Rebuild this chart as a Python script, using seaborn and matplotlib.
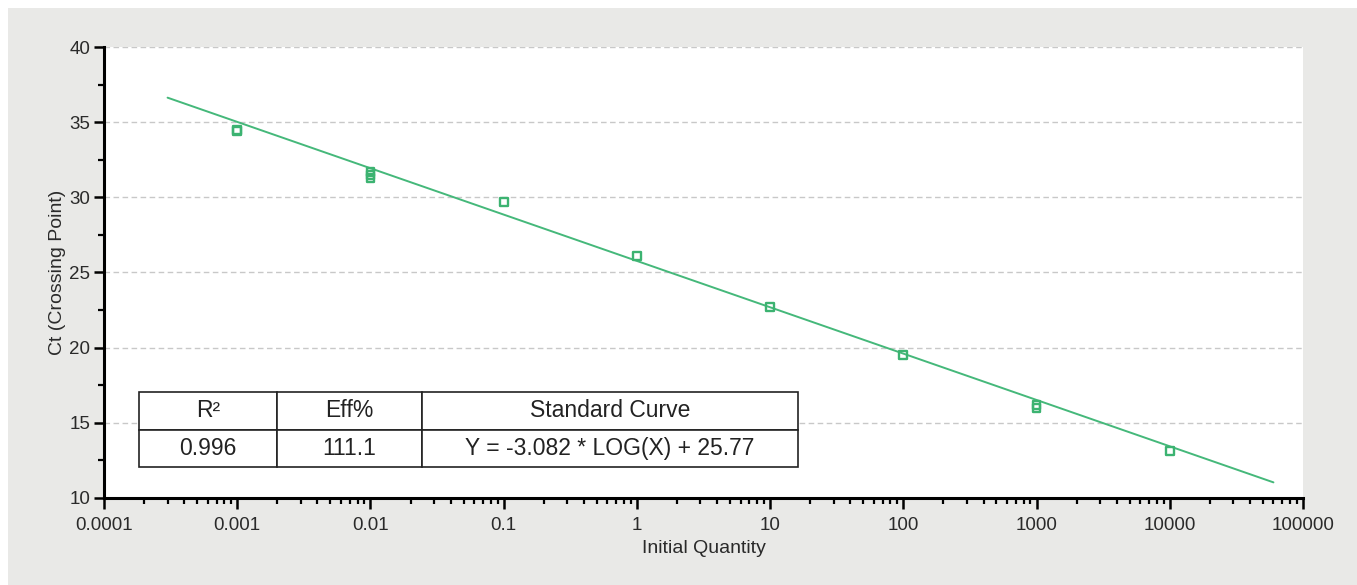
import matplotlib
matplotlib.use('Agg')
import matplotlib.pyplot as plt
import matplotlib.ticker as mticker
from matplotlib.patches import Rectangle
import seaborn as sns
import pandas as pd

# standard curve data
quantity = [0.001, 0.001, 0.01, 0.01, 0.01, 0.1, 1, 10, 100, 1000, 1000, 10000]
ct_values = [34.4, 34.5, 31.3, 31.5, 31.7, 29.7, 26.1, 22.7, 19.5, 16.0, 16.2, 13.1]

# fitted line end points
fit_x = [0.0003, 60000]
fit_y = [36.63, 11.04]

x_ticks = [0.0001, 0.001, 0.01, 0.1, 1, 10, 100, 1000, 10000, 100000]
x_tick_labels = ['0.0001', '0.001', '0.01', '0.1', '1', '10', '100', '1000', '10000', '100000']
y_ticks = [10, 15, 20, 25, 30, 35, 40]

table_header = ['R\u00b2', 'Eff%', 'Standard Curve']
table_row = ['0.996', '111.1', 'Y = -3.082 * LOG(X) + 25.77']

sns.set_style('white')
plt.rcParams['font.family'] = ['Liberation Sans', 'DejaVu Sans']

green = '#3cb371'
W, H = 1357, 585
fig = plt.figure(figsize=(W / 100, H / 100), dpi=100, facecolor='white')
bg = Rectangle((8 / W, 0), 1, 1 - 8 / H, transform=fig.transFigure,
               facecolor='#e9e9e7', edgecolor='none', zorder=-10)
fig.add_artist(bg)

ax = fig.add_axes([104 / W, (H - 498) / H, 1199 / W, 451 / H])
ax.set_facecolor('white')

pts = pd.DataFrame({'qty': quantity, 'ct': ct_values})
fit = pd.DataFrame({'qty': fit_x, 'ct': fit_y})
sns.lineplot(data=fit, x='qty', y='ct', color='#45b87a', lw=1.4, ax=ax, zorder=3)
sns.scatterplot(data=pts, x='qty', y='ct', marker='s', s=32, facecolor='none',
                edgecolor=green, linewidth=1.7, ax=ax, zorder=4)

ax.set_xscale('log')
ax.set_xlim(0.0001, 100000)
ax.set_ylim(10, 40)
ax.set_xticks(x_ticks)
ax.set_xticklabels(x_tick_labels)
ax.xaxis.set_minor_locator(mticker.LogLocator(base=10, subs=range(2, 10), numticks=20))
ax.xaxis.set_minor_formatter(mticker.NullFormatter())
ax.set_yticks(y_ticks)
ax.yaxis.set_minor_locator(mticker.MultipleLocator(2.5))

ax.grid(axis='y', color='#c8c8c8', linestyle=(0, (4, 2.5)), linewidth=1)
ax.set_axisbelow(True)

for s in ['top', 'right']:
    ax.spines[s].set_visible(False)
for s in ['left', 'bottom']:
    ax.spines[s].set_color('black')
    ax.spines[s].set_linewidth(2.2)

ax.tick_params(axis='both', which='major', direction='out', length=7, width=1.8,
               color='black', labelsize=13.5, labelcolor='#2a2a2a', pad=3,
               left=True, bottom=True)
ax.tick_params(axis='both', which='minor', direction='out', length=4.5, width=1.6,
               color='black', left=True, bottom=True)
ax.tick_params(axis='x', which='major', length=8, pad=6)

ax.set_xlabel('Initial Quantity', fontsize=14, color='#2a2a2a', labelpad=4)
ax.set_ylabel('Ct (Crossing Point)', fontsize=14, color='#2a2a2a', labelpad=2)

# results table
tbl = ax.table(cellText=[table_row], colLabels=table_header, cellLoc='center',
               colWidths=[0.2094 * 0.5496, 0.22 * 0.5496, 0.5706 * 0.5496],
               bbox=[0.0292, 0.0687, 0.5496, 0.1663], zorder=6)
tbl.auto_set_font_size(False)
for (r, c), cell in tbl.get_celld().items():
    cell.set_facecolor('white')
    cell.set_edgecolor('#222222')
    cell.set_linewidth(1.2)
    cell.get_text().set_fontsize(16.5)
    cell.get_text().set_color('#222222')

fig.savefig('out.png', dpi=100, facecolor=fig.get_facecolor())
